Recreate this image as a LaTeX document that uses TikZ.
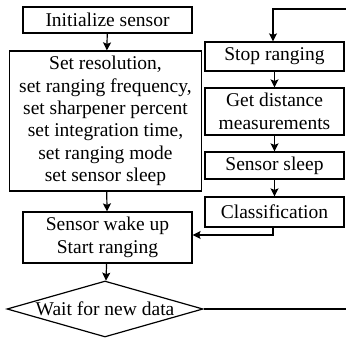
\documentclass[tikz,border=0pt]{standalone}
\usepackage{fontspec}
\setmainfont{Liberation Serif}
\usetikzlibrary{shapes.geometric,arrows.meta}
\begin{document}
\begin{tikzpicture}[x=1pt,y=-1pt,
  font=\fontsize{19.5}{22.4}\selectfont,
  line width=1.2pt,
  box/.style={draw, rectangle, align=center, inner sep=0pt},
  dec/.style={draw, diamond, align=center, inner sep=0pt, aspect=3.5},
  arr/.style={-{Stealth[length=8pt,width=8pt,inset=1.5pt]}}]
\path[use as bounding box, clip] (0,0) rectangle (346,339);
\node[box, minimum width=169pt, minimum height=26pt] (init) at (107.5,20) {Initialize sensor};
\node[box, minimum width=192pt, minimum height=140pt] (setres) at (105.5,121) {Set resolution,\\set ranging frequency,\\set sharpener percent\\set integration time,\\set ranging mode\\set sensor sleep};
\node[box, minimum width=169pt, minimum height=51pt] (wake) at (107.5,237.5) {Sensor wake up\\Start ranging};
\node[dec, minimum width=196pt, minimum height=56pt] (wait) at (105,309) {Wait for new data};
\node[box, minimum width=139pt, minimum height=29pt] (stop) at (274.5,56.5) {Stop ranging};
\node[box, minimum width=139pt, minimum height=47pt] (get) at (274.5,111.5) {Get distance\\measurements};
\node[box, minimum width=139pt, minimum height=27pt] (sleep) at (274.5,165.5) {Sensor sleep};
\node[box, minimum width=139pt, minimum height=30pt] (class) at (274.5,212) {Classification};
\coordinate (loopA) at (360,309);
\coordinate (loopB) at (360,9);
\coordinate (loopC) at (273,9);
\coordinate (turn) at (273,235);
\draw[arr] (init) -- (setres);
\draw[arr] (setres) -- (wake);
\draw[arr] (wake) -- (wait);
\draw[arr] (stop) -- (get);
\draw[arr] (get) -- (sleep);
\draw[arr] (sleep) -- (class);
\draw[arr] (class.south -| turn) -- (turn) -- (wake.east |- turn);
\draw[arr] (wait.east) -- (loopA) -- (loopB) -- (loopC) -- (stop.north -| loopC);
\end{tikzpicture}
\end{document}
